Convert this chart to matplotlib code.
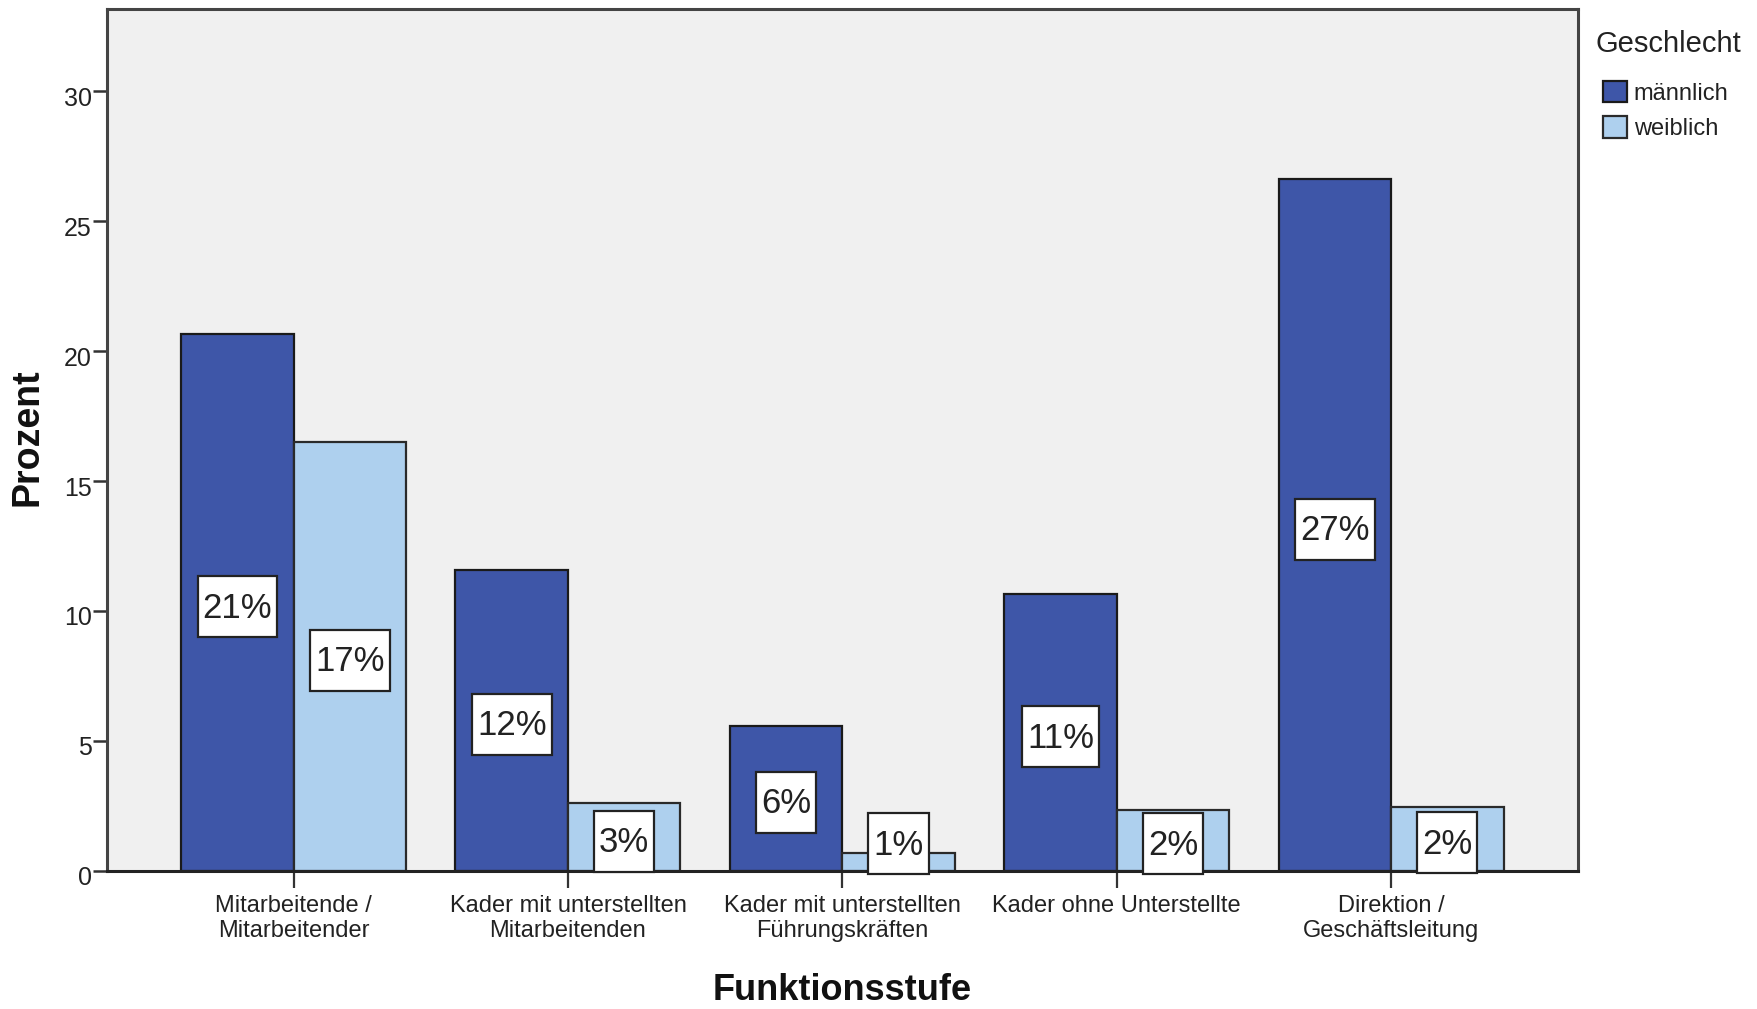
import matplotlib
matplotlib.use("Agg")
import matplotlib.pyplot as plt
import matplotlib.transforms as mtransforms
from matplotlib.patches import Rectangle
import numpy as np

plt.rcParams['font.family'] = ['Liberation Sans', 'DejaVu Sans']

# Funktionsstufe categories and percentages per Geschlecht
categories = ["Mitarbeitende /\nMitarbeitender",
              "Kader mit unterstellten\nMitarbeitenden",
              "Kader mit unterstellten\nFührungskräften",
              "Kader ohne Unterstellte",
              "Direktion /\nGeschäftsleitung"]
maennlich = [20.65, 11.59, 5.58, 10.64, 26.61]
weiblich = [16.51, 2.60, 0.67, 2.34, 2.46]
series_names = ["männlich", "weiblich"]
yticks = [0, 5, 10, 15, 20, 25, 30]

col_m = "#3E56A8"
col_w = "#AED0EE"

DPI = 100
fig = plt.figure(figsize=(17.58, 10.09), dpi=DPI)
ax = fig.add_axes([107 / 1758, 1 - 870.7 / 1009, (1577.7 - 107) / 1758, (870.7 - 9) / 1009])
ax.set_facecolor("#F0F0F0")

x = np.arange(len(categories))
w = 0.41
bars_m = ax.bar(x - w / 2, maennlich, width=w, color=col_m, edgecolor="#1a1a1a",
                linewidth=1.6, label=series_names[0], zorder=2)
bars_w = ax.bar(x + w / 2, weiblich, width=w, color=col_w, edgecolor="#2a2a2a",
                linewidth=1.6, label=series_names[1], zorder=2)

ax.set_xlim(-0.68, 4.68)
ax.set_ylim(0, 33.17)

# value labels in white boxes, centred in each bar
renderer = fig.canvas.get_renderer()
box_h = 61 / DPI          # box height in inches
pad_x = 5 / DPI           # horizontal padding in inches
for xs, vals in ((x - w / 2, maennlich), (x + w / 2, weiblich)):
    for xi, v in zip(xs, vals):
        yc = max(v / 2, 1.2) - 0.22
        t = ax.text(xi, yc, f"{round(v)}%", ha="center", va="center",
                    fontsize=25, color="#222222", zorder=5)
        tw = t.get_window_extent(renderer).width / DPI
        bw = tw + 2 * pad_x
        tr = fig.dpi_scale_trans + mtransforms.ScaledTranslation(xi, yc, ax.transData)
        ax.add_patch(Rectangle((-bw / 2, -box_h / 2 + 1.5 / DPI), bw, box_h, transform=tr,
                               facecolor="white", edgecolor="#222222", linewidth=1.6,
                               zorder=4, clip_on=False))

ax.set_yticks(yticks)
ax.set_yticklabels([str(t) for t in yticks], fontsize=18, color="#222222")
ax.set_xticks(x)
ax.set_xticklabels(categories, fontsize=17, color="#222222", linespacing=1.2)
ax.tick_params(axis="y", direction="out", length=10, width=1.8, color="#333333", pad=1)
ax.tick_params(axis="x", direction="out", length=12.5, width=1.6, color="#333333", pad=5)

# y tick labels sit slightly below their tick marks
shift = mtransforms.ScaledTranslation(0, -5 / DPI, fig.dpi_scale_trans)
for lbl in ax.get_yticklabels():
    lbl.set_transform(lbl.get_transform() + shift)

for side, sp in ax.spines.items():
    sp.set_color("#444444")
    sp.set_linewidth(2.2)
ax.spines["bottom"].set_color("#222222")

fig.text(28 / 1758, 1 - 437 / 1009, "Prozent", rotation=90, ha="center", va="center",
         fontsize=27, fontweight="bold", color="#111111")
fig.text(842 / 1758, 1 - 991 / 1009, "Funktionsstufe", ha="center", va="center",
         fontsize=26, fontweight="bold", color="#111111")

fig.text(1596 / 1758, 1 - 44 / 1009, "Geschlecht", ha="left", va="center",
         fontsize=21, color="#222222")
leg = fig.legend(handles=[bars_m, bars_w], labels=series_names,
                 loc="upper left", bbox_to_anchor=(1603 / 1758, 1 - 81 / 1009),
                 frameon=False, fontsize=17,
                 handlelength=1.0, handleheight=1.0, handletextpad=0.3,
                 labelspacing=0.5, borderpad=0, borderaxespad=0)
for t in leg.get_texts():
    t.set_color("#222222")

fig.savefig("out.png", dpi=DPI)
